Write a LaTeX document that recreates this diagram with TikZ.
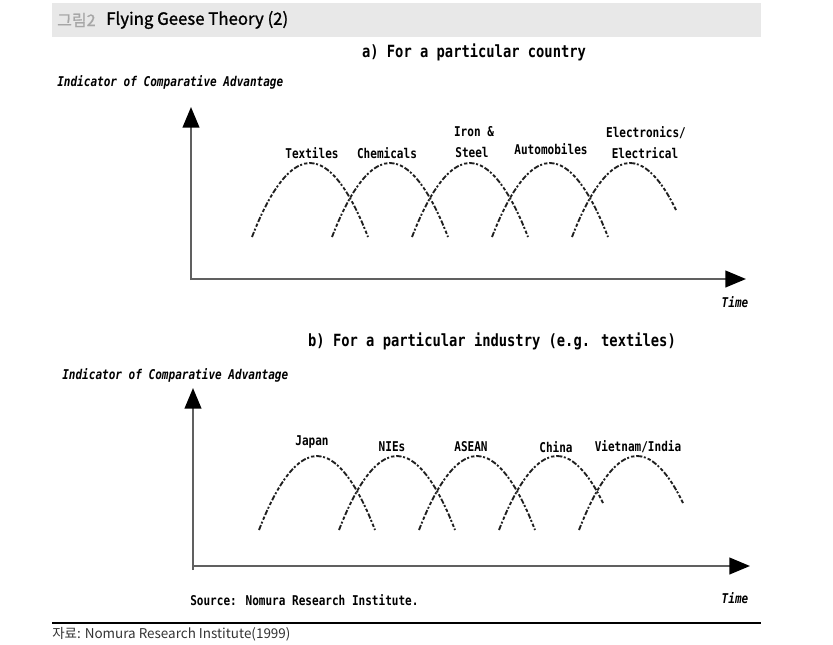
\documentclass[tikz,border=0pt]{standalone}
\usepackage{fontspec}
\usetikzlibrary{arrows.meta}
\newfontfamily\cf{DejaVu Sans Mono}[FakeStretch=0.82]
\newfontfamily\kr{Noto Sans CJK KR}
\newfontfamily\krm{Noto Sans CJK KR}[FakeBold=1.2]
\definecolor{bandgray}{HTML}{E8E8E8}
\definecolor{axisgray}{HTML}{606060}
\definecolor{curvegray}{HTML}{202020}
\begin{document}
\begin{tikzpicture}[x=0.75pt,y=-0.75pt,
  lbl/.style={inner sep=0pt,font=\cf\bfseries\fontsize{10.1}{11}\selectfont},
  ttl/.style={inner sep=0pt,font=\cf\bfseries\fontsize{12.6}{14}\selectfont},
  ital/.style={inner sep=0pt,font=\cf\bfseries\itshape\fontsize{10.1}{11}\selectfont},
  axis/.style={draw=axisgray,line width=1.6pt,-{Triangle[length=15.5pt,width=12.5pt,color=black]}},
  curve/.style={draw=curvegray,line width=1.4pt,dash pattern=on 4pt off 1.2pt on 1.5pt off 1.6pt on 2.5pt off 1.4pt}
]
\useasboundingbox (0,0) rectangle (833,644);
% title band
\fill[bandgray] (52,3) rectangle (761,36.5);
\node[anchor=west,inner sep=0pt,text=black!35,font=\krm\fontsize{12}{14}\selectfont] (fignum) at (57,20) {그림2};
\node[anchor=west,inner sep=0pt,font=\krm\fontsize{12.6}{14}\selectfont] (figtitle) at (106,20) {Flying Geese Theory (2)};

% ---------- panel a ----------
\node[ttl] (ta) at (474,52) {a) For a particular country};
\node[ital,anchor=west] (ya) at (57,82) {Indicator of Comparative Advantage};
\coordinate (oa) at (191,280);
\coordinate (ya-top) at (191,107);
\coordinate (xa-end) at (746,279);
\draw[axis] (oa) -- (ya-top);
\draw[axis] (190,279) -- (xa-end);
\node[ital] (timea) at (735,302) {Time};

\foreach \c in {310,390,470,550}{
  \draw[curve] (\c-58,237) parabola bend (\c,163) (\c+58,237);
}
\draw[curve] (630-58,237) parabola[bend at end] (630,163);
\draw[curve] (630,163) parabola[bend at start] (630+46,210);

\node[lbl] (textiles) at (312,153) {Textiles};
\node[lbl] (chemicals) at (387,153) {Chemicals};
\node[lbl] (iron) at (474,132) {Iron \&};
\node[lbl] (steel) at (472,152) {Steel};
\node[lbl] (auto) at (551,149) {Automobiles};
\node[lbl] (elec1) at (646,133) {Electronics/};
\node[lbl] (elec2) at (645,153) {Electrical};

% ---------- panel b ----------
\node[ttl] (tb) at (492,341) {b) For a particular industry (e.g. textiles)};
\node[ital,anchor=west] (yb) at (62,375) {Indicator of Comparative Advantage};
\coordinate (ob) at (193,570);
\coordinate (yb-top) at (193,388);
\coordinate (xb-end) at (750,566);
\draw[axis] (ob) -- (yb-top);
\draw[axis] (192,566) -- (xb-end);
\node[ital] (timeb) at (735,598) {Time};

\foreach \c in {317,397,477}{
  \draw[curve] (\c-58,530) parabola bend (\c,456) (\c+58,530);
}
\draw[curve] (557-58,530) parabola[bend at end] (557,456);
\draw[curve] (557,456) parabola[bend at start] (557+46,503);
\draw[curve] (637-58,530) parabola[bend at end] (637,456);
\draw[curve] (637,456) parabola[bend at start] (637+46,503);

\node[lbl] (japan) at (312,442) {Japan};
\node[lbl] (nies) at (392,447) {NIEs};
\node[lbl] (asean) at (471,447) {ASEAN};
\node[lbl] (china) at (556,447) {China};
\node[lbl] (vi) at (638,447) {Vietnam/India};

\node[lbl,anchor=west] (src) at (190,600) {Source: Nomura Research Institute.};

% footer
\draw[line width=1.1pt] (52,623) -- (761,623);
\node[anchor=west,inner sep=0pt,text=black!80,font=\kr\fontsize{10.1}{12}\selectfont] (footer) at (52,634) {자료: Nomura Research Institute(1999)};
\end{tikzpicture}
\end{document}
